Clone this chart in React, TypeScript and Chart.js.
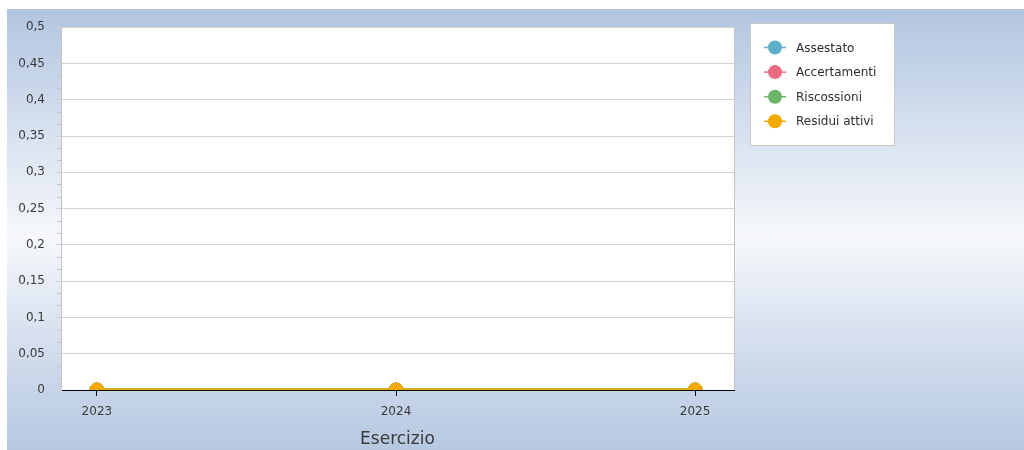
import { useEffect, useRef } from 'react';
import { Chart, registerables } from 'chart.js';
Chart.register(...registerables);

const years = [2023, 2024, 2025];
const seriesNames = ['Assestato', 'Accertamenti', 'Riscossioni', 'Residui attivi'];
const assestato = [0, 0, 0];
const accertamenti = [0, 0, 0];
const riscossioni = [0, 0, 0];
const residuiAttivi = [0, 0, 0];
const seriesColors = ['#5eb0c9', '#e86b80', '#6bb66b', '#f2aa00'];
const yMin = 0;
const yMax = 0.5;
const yStep = 0.05;
const xTitle = 'Esercizio';

const FONT = '"DejaVu Sans", sans-serif';

const decorPlugin = {
  id: 'decor',
  beforeDraw(chart: any) {
    const { ctx, chartArea } = chart;
    ctx.save();
    ctx.fillStyle = '#ffffff';
    ctx.fillRect(chartArea.left, chartArea.top, chartArea.right - chartArea.left, chartArea.bottom - chartArea.top);
    ctx.restore();
  },
  beforeDatasetsDraw(chart: any) {
    const { ctx, chartArea, scales } = chart;
    const y = scales.y;
    ctx.save();
    ctx.strokeStyle = '#c4c4c4';
    ctx.lineWidth = 1;
    ctx.beginPath();
    for (let k = 0; k < 10; k++) {
      for (let j = 1; j < 3; j++) {
        const v = k * yStep + (j * yStep) / 3;
        const py = Math.round(y.getPixelForValue(v)) + 0.5;
        ctx.moveTo(chartArea.left - 4, py);
        ctx.lineTo(chartArea.left, py);
      }
    }
    const rx = Math.round(chartArea.right) + 0.5;
    ctx.moveTo(rx, chartArea.top);
    ctx.lineTo(rx, chartArea.bottom);
    ctx.stroke();
    ctx.restore();
  },
  afterDraw(chart: any) {
    const { ctx } = chart;
    ctx.save();
    const bx = 743.5, by = 14.5, bw = 144, bh = 122;
    ctx.fillStyle = '#ffffff';
    ctx.fillRect(bx, by, bw, bh);
    ctx.strokeStyle = '#c8c8c8';
    ctx.lineWidth = 1;
    ctx.strokeRect(bx, by, bw, bh);
    chart.data.datasets.forEach((ds: any, i: number) => {
      const cy = 38.5 + i * 24.6;
      const color = ds.borderColor;
      ctx.strokeStyle = color;
      ctx.lineWidth = 1.5;
      ctx.beginPath();
      ctx.moveTo(757, cy);
      ctx.lineTo(779, cy);
      ctx.stroke();
      ctx.fillStyle = color;
      ctx.beginPath();
      ctx.arc(768, cy, 7, 0, Math.PI * 2);
      ctx.fill();
      ctx.fillStyle = '#2e2e2e';
      ctx.font = '12px ' + FONT;
      ctx.textBaseline = 'middle';
      ctx.textAlign = 'left';
      ctx.fillText(ds.label, 789, cy + 1);
    });
    ctx.restore();
  },
};

export default function App() {
  const ref = useRef<HTMLCanvasElement | null>(null);
  useEffect(() => {
    if (!ref.current) return;
    const series = [assestato, accertamenti, riscossioni, residuiAttivi];
    const chart = new Chart(ref.current, {
      type: 'line',
      data: {
        datasets: series.map((arr, i) => ({
          label: seriesNames[i],
          data: years.map((x, j) => ({ x, y: arr[j] })),
          borderColor: seriesColors[i],
          backgroundColor: seriesColors[i],
          pointBackgroundColor: seriesColors[i],
          pointBorderColor: seriesColors[i],
          pointBorderWidth: 1,
          pointRadius: 7,
          borderWidth: 3,
          clip: 0,
          order: series.length - i,
        })),
      },
      options: {
        animation: false,
        responsive: true,
        maintainAspectRatio: false,
        layout: { padding: { top: 17, right: 290, left: 0, bottom: 0 } },
        plugins: { legend: { display: false }, tooltip: { enabled: false } },
        scales: {
          x: {
            type: 'linear',
            min: 2022.88,
            max: 2025.13,
            afterBuildTicks: (s: any) => {
              s.ticks = years.map((v) => ({ value: v }));
            },
            afterFit: (s: any) => {
              s.height = 60;
            },
            grid: { drawOnChartArea: false, drawTicks: true, tickLength: 6, color: '#000000' },
            border: { color: '#000000', width: 1 },
            ticks: {
              callback: (v: any) => String(v),
              color: '#3a3a3a',
              font: { family: FONT, size: 12 },
              padding: 9,
              maxRotation: 0,
            },
            title: {
              display: true,
              text: xTitle,
              color: '#3a3a3a',
              font: { family: FONT, size: 17 },
              padding: { top: 0, bottom: 0 },
            },
          },
          y: {
            min: yMin,
            max: yMax,
            afterFit: (s: any) => {
              s.width = 54;
            },
            grid: { color: '#d2d2d2', drawTicks: true, tickLength: 5 },
            border: { color: '#c4c4c4' },
            ticks: {
              stepSize: yStep,
              callback: (v: any) => String(Math.round(Number(v) * 100) / 100).replace('.', ','),
              color: '#3a3a3a',
              font: { family: FONT, size: 12 },
              padding: 11,
            },
          },
        },
      },
      plugins: [decorPlugin],
    });
    return () => chart.destroy();
  }, []);
  return (
    <div
      style={{
        position: 'fixed',
        left: 7,
        top: 9,
        right: 0,
        bottom: 0,
        background: 'linear-gradient(to bottom, #b2c5e0 0%, #dae3f0 30%, #f6f8fb 52%, #d5dfee 75%, #b6c8e1 100%)',
      }}
    >
      <canvas ref={ref} />
    </div>
  );
}
